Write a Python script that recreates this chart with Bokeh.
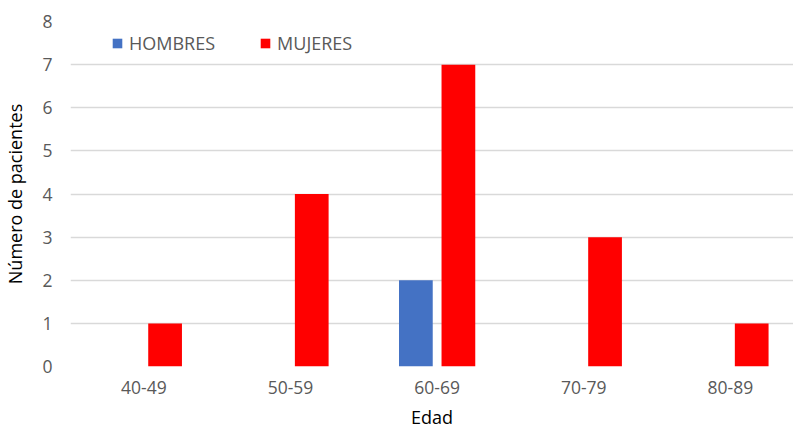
from bokeh.plotting import figure
from bokeh.models import Range1d, FixedTicker, Legend, LegendItem, ColumnDataSource
from bokeh.embed import file_html
from bokeh.resources import INLINE

categories = ["40-49", "50-59", "60-69", "70-79", "80-89"]
hombres = [0, 0, 2, 0, 0]
mujeres = [1, 4, 7, 3, 1]
y_ticks = [0, 1, 2, 3, 4, 5, 6, 7, 8]

FONT = "Open Sans"
GREY = "#595959"
BLUE = "#4472C4"
RED = "#FF0000"

idx = [i + 0.5 for i in range(len(categories))]
src = ColumnDataSource(dict(
    xh=[x - 0.145 for x in idx],
    xm=[x + 0.145 for x in idx],
    h=hombres,
    m=mujeres,
))

p = figure(width=793, height=432, output_backend="svg", toolbar_location=None,
           x_range=Range1d(0, 4.93), y_range=Range1d(0, 8),
           min_border_left=67, min_border_right=0, min_border_top=21, min_border_bottom=66)
p.outline_line_color = None
p.background_fill_color = "white"

rh = p.vbar(x="xh", top="h", width=0.23, source=src, fill_color=BLUE, line_color=None)
rm = p.vbar(x="xm", top="m", width=0.23, source=src, fill_color=RED, line_color=None)

p.xaxis.ticker = FixedTicker(ticks=idx)
p.xaxis.major_label_overrides = {x: c for x, c in zip(idx, categories)}
p.yaxis.ticker = FixedTicker(ticks=y_ticks)

for ax in (p.xaxis[0], p.yaxis[0]):
    ax.axis_line_color = None
    ax.major_tick_line_color = None
    ax.minor_tick_line_color = None
    ax.major_tick_out = 0
    ax.major_tick_in = 0
    ax.minor_tick_out = 0
    ax.minor_tick_in = 0
    ax.major_label_text_font = FONT
    ax.major_label_text_font_size = "17.5px"
    ax.major_label_text_color = GREY
    ax.axis_label_text_font = FONT
    ax.axis_label_text_font_size = "18px"
    ax.axis_label_text_color = "#000000"
    ax.axis_label_text_font_style = "normal"

p.xaxis.axis_label = "Edad"
p.yaxis.axis_label = "Número de pacientes"
p.xaxis.major_label_standoff = 14
p.xaxis.axis_label_standoff = 8
p.yaxis.major_label_standoff = 18
p.yaxis.axis_label_standoff = 12

p.xgrid.grid_line_color = None
p.ygrid.grid_line_color = "#D9D9D9"
p.ygrid.grid_line_width = 1.5
p.ygrid.ticker = FixedTicker(ticks=y_ticks)

legend = Legend(items=[LegendItem(label="HOMBRES", renderers=[rh]),
                       LegendItem(label="MUJERES", renderers=[rm])],
                orientation="horizontal", location=(41, 311),
                glyph_width=12, glyph_height=12, label_height=12,
                label_standoff=6, spacing=44, padding=0, margin=0,
                border_line_color=None, background_fill_alpha=0,
                label_text_font=FONT, label_text_font_size="18px",
                label_text_color=GREY)
p.add_layout(legend)

open("out.html", "w").write(file_html(p, INLINE))
